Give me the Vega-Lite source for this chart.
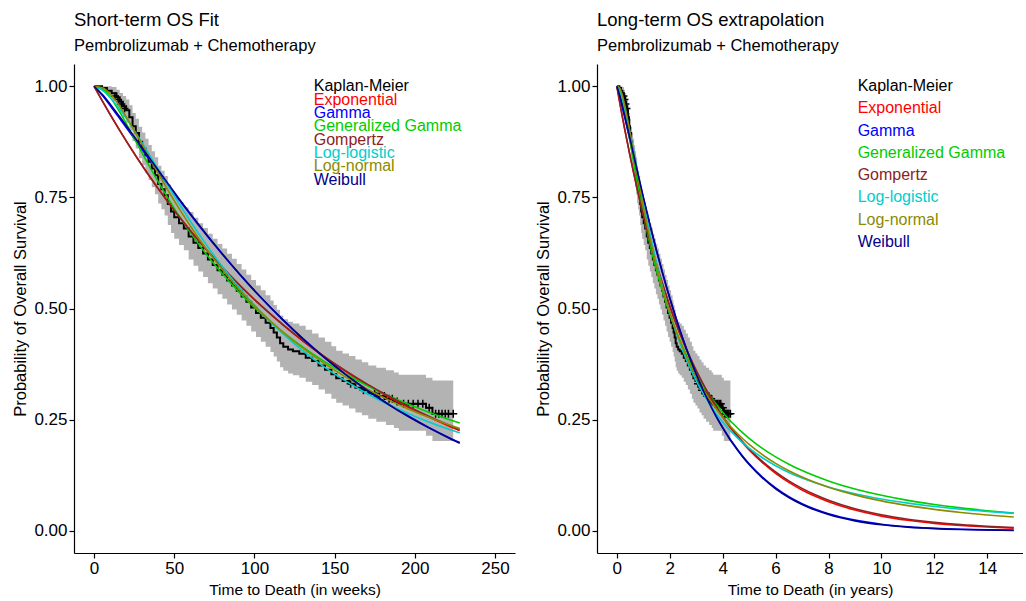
{
  "$schema": "https://vega.github.io/schema/vega-lite/v6.json",
  "background": "white",
  "padding": {"left": 12, "top": 11, "right": 0, "bottom": 0},
  "spacing": 20,
  "config": {
    "font": "Liberation Sans",
    "view": {"stroke": null},
    "axis": {"grid": false, "domainColor": "black", "tickColor": "black", "labelColor": "black", "titleColor": "black", "labelFontSize": 17, "titleFontSize": 15.5, "titleFontWeight": "normal", "tickSize": 5, "labelPadding": 2, "domainWidth": 1.2, "tickWidth": 1.2, "titlePadding": 6},
    "axisY": {"titleFontSize": 16.5, "titlePadding": 5},
    "title": {"anchor": "start", "frame": "group", "fontSize": 18.5, "fontWeight": "normal", "subtitleFontSize": 16.5, "subtitlePadding": 8, "color": "black", "subtitleColor": "black", "offset": 10}
  },
  "datasets": {
    "km": [
      {"w":0,"t":0,"s":1,"lo":1,"hi":1},
      {"w":5,"t":0.0958,"s":0.996,"lo":0.988,"hi":1},
      {"w":8,"t":0.1533,"s":0.990,"lo":0.978,"hi":1},
      {"w":11,"t":0.2108,"s":0.984,"lo":0.968,"hi":0.998},
      {"w":14,"t":0.2683,"s":0.975,"lo":0.955,"hi":0.992},
      {"w":16,"t":0.3066,"s":0.965,"lo":0.942,"hi":0.985},
      {"w":18,"t":0.3450,"s":0.955,"lo":0.930,"hi":0.978},
      {"w":20,"t":0.3833,"s":0.946,"lo":0.918,"hi":0.970},
      {"w":22,"t":0.4216,"s":0.930,"lo":0.900,"hi":0.957},
      {"w":24,"t":0.4599,"s":0.910,"lo":0.877,"hi":0.940},
      {"w":26,"t":0.4983,"s":0.895,"lo":0.860,"hi":0.927},
      {"w":28,"t":0.5366,"s":0.875,"lo":0.838,"hi":0.909},
      {"w":30,"t":0.5749,"s":0.860,"lo":0.822,"hi":0.896},
      {"w":32,"t":0.6133,"s":0.845,"lo":0.805,"hi":0.882},
      {"w":34,"t":0.6516,"s":0.830,"lo":0.789,"hi":0.868},
      {"w":36,"t":0.6899,"s":0.815,"lo":0.773,"hi":0.854},
      {"w":38,"t":0.7282,"s":0.800,"lo":0.757,"hi":0.840},
      {"w":40,"t":0.7666,"s":0.780,"lo":0.736,"hi":0.821},
      {"w":42,"t":0.8049,"s":0.768,"lo":0.723,"hi":0.810},
      {"w":44,"t":0.8432,"s":0.755,"lo":0.709,"hi":0.798},
      {"w":46,"t":0.8816,"s":0.735,"lo":0.688,"hi":0.779},
      {"w":48,"t":0.9199,"s":0.718,"lo":0.670,"hi":0.763},
      {"w":50,"t":0.9582,"s":0.705,"lo":0.657,"hi":0.751},
      {"w":53,"t":1.0157,"s":0.692,"lo":0.643,"hi":0.738},
      {"w":56,"t":1.0732,"s":0.680,"lo":0.631,"hi":0.727},
      {"w":59,"t":1.1307,"s":0.662,"lo":0.610,"hi":0.717},
      {"w":62,"t":1.1882,"s":0.648,"lo":0.596,"hi":0.704},
      {"w":65,"t":1.2457,"s":0.636,"lo":0.583,"hi":0.692},
      {"w":68,"t":1.3032,"s":0.624,"lo":0.571,"hi":0.681},
      {"w":71,"t":1.3607,"s":0.610,"lo":0.557,"hi":0.668},
      {"w":74,"t":1.4182,"s":0.598,"lo":0.545,"hi":0.657},
      {"w":77,"t":1.4757,"s":0.586,"lo":0.532,"hi":0.645},
      {"w":80,"t":1.5332,"s":0.576,"lo":0.522,"hi":0.635},
      {"w":83,"t":1.5906,"s":0.563,"lo":0.509,"hi":0.623},
      {"w":86,"t":1.6481,"s":0.552,"lo":0.498,"hi":0.612},
      {"w":89,"t":1.7056,"s":0.540,"lo":0.486,"hi":0.600},
      {"w":92,"t":1.7631,"s":0.527,"lo":0.473,"hi":0.588},
      {"w":95,"t":1.8206,"s":0.515,"lo":0.461,"hi":0.576},
      {"w":98,"t":1.8781,"s":0.502,"lo":0.448,"hi":0.564},
      {"w":101,"t":1.9356,"s":0.490,"lo":0.436,"hi":0.552},
      {"w":104,"t":1.9931,"s":0.479,"lo":0.425,"hi":0.541},
      {"w":107,"t":2.0506,"s":0.468,"lo":0.414,"hi":0.530},
      {"w":110,"t":2.1081,"s":0.456,"lo":0.402,"hi":0.518},
      {"w":112,"t":2.1464,"s":0.446,"lo":0.392,"hi":0.508},
      {"w":114,"t":2.1847,"s":0.435,"lo":0.381,"hi":0.497},
      {"w":116,"t":2.2231,"s":0.422,"lo":0.368,"hi":0.484},
      {"w":118,"t":2.2614,"s":0.414,"lo":0.360,"hi":0.476},
      {"w":121,"t":2.3189,"s":0.408,"lo":0.354,"hi":0.470},
      {"w":124,"t":2.3764,"s":0.404,"lo":0.350,"hi":0.466},
      {"w":128,"t":2.4531,"s":0.398,"lo":0.344,"hi":0.461},
      {"w":132,"t":2.5297,"s":0.389,"lo":0.335,"hi":0.452},
      {"w":136,"t":2.6064,"s":0.382,"lo":0.328,"hi":0.444},
      {"w":140,"t":2.6830,"s":0.372,"lo":0.318,"hi":0.435},
      {"w":144,"t":2.7597,"s":0.362,"lo":0.308,"hi":0.425},
      {"w":148,"t":2.8363,"s":0.352,"lo":0.297,"hi":0.415},
      {"w":151,"t":2.8938,"s":0.343,"lo":0.288,"hi":0.405},
      {"w":155,"t":2.9705,"s":0.337,"lo":0.282,"hi":0.399},
      {"w":159,"t":3.0472,"s":0.331,"lo":0.275,"hi":0.393},
      {"w":163,"t":3.1238,"s":0.322,"lo":0.266,"hi":0.385},
      {"w":167,"t":3.2005,"s":0.316,"lo":0.260,"hi":0.379},
      {"w":171,"t":3.2771,"s":0.309,"lo":0.252,"hi":0.372},
      {"w":176,"t":3.3729,"s":0.303,"lo":0.245,"hi":0.367},
      {"w":182,"t":3.4879,"s":0.297,"lo":0.238,"hi":0.361},
      {"w":187,"t":3.5837,"s":0.291,"lo":0.231,"hi":0.356},
      {"w":190,"t":3.6413,"s":0.286,"lo":0.225,"hi":0.351},
      {"w":207,"t":3.9670,"s":0.277,"lo":0.214,"hi":0.344},
      {"w":211,"t":4.0437,"s":0.263,"lo":0.202,"hi":0.338},
      {"w":224,"t":4.2928,"s":0.263,"lo":0.202,"hi":0.338}
    ],
    "cens": [
      {"w":13,"t":0.2491,"s":0.978},{"w":15,"t":0.2875,"s":0.970},{"w":17,"t":0.3258,"s":0.960},{"w":19,"t":0.3641,"s":0.950},
      {"w":160,"t":3.0663,"s":0.331},{"w":168,"t":3.2196,"s":0.316},{"w":175,"t":3.3538,"s":0.309},{"w":178,"t":3.4113,"s":0.303},
      {"w":181,"t":3.4688,"s":0.303},{"w":184,"t":3.5262,"s":0.297},{"w":186,"t":3.5646,"s":0.297},{"w":189,"t":3.6221,"s":0.291},
      {"w":193,"t":3.6987,"s":0.286},{"w":196,"t":3.7562,"s":0.286},{"w":199,"t":3.8137,"s":0.286},{"w":202,"t":3.8712,"s":0.286},
      {"w":205,"t":3.9287,"s":0.286},{"w":209,"t":4.0054,"s":0.277},{"w":213,"t":4.0820,"s":0.263},{"w":215,"t":4.1204,"s":0.263},
      {"w":217,"t":4.1587,"s":0.263},{"w":219,"t":4.1970,"s":0.263},{"w":221,"t":4.2353,"s":0.263},{"w":224,"t":4.2928,"s":0.263}
    ],
    "lab": [
      {"label":"Kaplan-Meier","w":137,"t":9.1,"sL":1.00,"sR":1.00},
      {"label":"Exponential","w":137,"t":9.1,"sL":0.97,"sR":0.95},
      {"label":"Gamma","w":137,"t":9.1,"sL":0.94,"sR":0.90},
      {"label":"Generalized Gamma","w":137,"t":9.1,"sL":0.91,"sR":0.85},
      {"label":"Gompertz","w":137,"t":9.1,"sL":0.88,"sR":0.80},
      {"label":"Log-logistic","w":137,"t":9.1,"sL":0.85,"sR":0.75},
      {"label":"Log-normal","w":137,"t":9.1,"sL":0.82,"sR":0.70},
      {"label":"Weibull","w":137,"t":9.1,"sL":0.79,"sR":0.65}
    ],
    "fit": [
      {"m":"Exponential","t":0,"w":0,"s":1},{"m":"Exponential","t":0.1,"w":5.22,"s":0.9665},{"m":"Exponential","t":0.2,"w":10.44,"s":0.9341},{"m":"Exponential","t":0.3,"w":15.65,"s":0.9028},{"m":"Exponential","t":0.5,"w":26.09,"s":0.8432},{"m":"Exponential","t":0.75,"w":39.14,"s":0.7743},{"m":"Exponential","t":1,"w":52.18,"s":0.7110},{"m":"Exponential","t":1.25,"w":65.23,"s":0.6530},{"m":"Exponential","t":1.5,"w":78.27,"s":0.5996},{"m":"Exponential","t":1.75,"w":91.32,"s":0.5506},{"m":"Exponential","t":2,"w":104.36,"s":0.5056},{"m":"Exponential","t":2.25,"w":117.41,"s":0.4643},{"m":"Exponential","t":2.5,"w":130.45,"s":0.4263},{"m":"Exponential","t":2.75,"w":143.5,"s":0.3915},{"m":"Exponential","t":3,"w":156.54,"s":0.3595},{"m":"Exponential","t":3.25,"w":169.59,"s":0.3301},{"m":"Exponential","t":3.5,"w":182.63,"s":0.3032},{"m":"Exponential","t":3.75,"w":195.68,"s":0.2784},{"m":"Exponential","t":4,"w":208.72,"s":0.2556},{"m":"Exponential","t":4.25,"w":221.77,"s":0.2348},{"m":"Exponential","t":4.37,"w":228.03,"s":0.2253},{"m":"Exponential","t":4.75,"s":0.1980},{"m":"Exponential","t":5,"s":0.1818},{"m":"Exponential","t":5.5,"s":0.1533},{"m":"Exponential","t":6,"s":0.1293},{"m":"Exponential","t":6.5,"s":0.1090},{"m":"Exponential","t":7,"s":0.0919},{"m":"Exponential","t":7.5,"s":0.0775},{"m":"Exponential","t":8,"s":0.0654},{"m":"Exponential","t":9,"s":0.0465},{"m":"Exponential","t":10,"s":0.0330},{"m":"Exponential","t":11,"s":0.0235},{"m":"Exponential","t":12,"s":0.0167},{"m":"Exponential","t":13,"s":0.0119},{"m":"Exponential","t":14,"s":0.0084},{"m":"Exponential","t":15,"s":0.0060},
      {"m":"Gamma","t":0,"w":0,"s":1},{"m":"Gamma","t":0.1,"w":5.22,"s":0.9790},{"m":"Gamma","t":0.2,"w":10.44,"s":0.9545},{"m":"Gamma","t":0.3,"w":15.65,"s":0.9290},{"m":"Gamma","t":0.5,"w":26.09,"s":0.8770},{"m":"Gamma","t":0.75,"w":39.14,"s":0.8120},{"m":"Gamma","t":1,"w":52.18,"s":0.7485},{"m":"Gamma","t":1.25,"w":65.23,"s":0.6875},{"m":"Gamma","t":1.5,"w":78.27,"s":0.6295},{"m":"Gamma","t":1.75,"w":91.32,"s":0.5748},{"m":"Gamma","t":2,"w":104.36,"s":0.5236},{"m":"Gamma","t":2.25,"w":117.41,"s":0.4760},{"m":"Gamma","t":2.5,"w":130.45,"s":0.4316},{"m":"Gamma","t":2.75,"w":143.5,"s":0.3907},{"m":"Gamma","t":3,"w":156.54,"s":0.3531},{"m":"Gamma","t":3.25,"w":169.59,"s":0.3187},{"m":"Gamma","t":3.5,"w":182.63,"s":0.2873},{"m":"Gamma","t":3.75,"w":195.68,"s":0.2586},{"m":"Gamma","t":4,"w":208.72,"s":0.2326},{"m":"Gamma","t":4.25,"w":221.77,"s":0.2090},{"m":"Gamma","t":4.37,"w":228.03,"s":0.1985},{"m":"Gamma","t":4.75,"s":0.1683},{"m":"Gamma","t":5,"s":0.1508},{"m":"Gamma","t":5.5,"s":0.1208},{"m":"Gamma","t":6,"s":0.0964},{"m":"Gamma","t":6.5,"s":0.0768},{"m":"Gamma","t":7,"s":0.0611},{"m":"Gamma","t":7.5,"s":0.0485},{"m":"Gamma","t":8,"s":0.0384},{"m":"Gamma","t":9,"s":0.0240},{"m":"Gamma","t":10,"s":0.0148},{"m":"Gamma","t":11,"s":0.0091},{"m":"Gamma","t":12,"s":0.0056},{"m":"Gamma","t":13,"s":0.0034},{"m":"Gamma","t":14,"s":0.0021},{"m":"Gamma","t":15,"s":0.0013},
      {"m":"Generalized Gamma","t":0,"w":0,"s":1},{"m":"Generalized Gamma","t":0.1,"w":5.22,"s":0.9943},{"m":"Generalized Gamma","t":0.2,"w":10.44,"s":0.9737},{"m":"Generalized Gamma","t":0.3,"w":15.65,"s":0.9442},{"m":"Generalized Gamma","t":0.5,"w":26.09,"s":0.8758},{"m":"Generalized Gamma","t":0.75,"w":39.14,"s":0.7904},{"m":"Generalized Gamma","t":1,"w":52.18,"s":0.7129},{"m":"Generalized Gamma","t":1.25,"w":65.23,"s":0.6448},{"m":"Generalized Gamma","t":1.5,"w":78.27,"s":0.5853},{"m":"Generalized Gamma","t":1.75,"w":91.32,"s":0.5333},{"m":"Generalized Gamma","t":2,"w":104.36,"s":0.4879},{"m":"Generalized Gamma","t":2.25,"w":117.41,"s":0.4478},{"m":"Generalized Gamma","t":2.5,"w":130.45,"s":0.4125},{"m":"Generalized Gamma","t":2.75,"w":143.5,"s":0.3811},{"m":"Generalized Gamma","t":3,"w":156.54,"s":0.3531},{"m":"Generalized Gamma","t":3.25,"w":169.59,"s":0.3280},{"m":"Generalized Gamma","t":3.5,"w":182.63,"s":0.3054},{"m":"Generalized Gamma","t":3.75,"w":195.68,"s":0.2851},{"m":"Generalized Gamma","t":4,"w":208.72,"s":0.2667},{"m":"Generalized Gamma","t":4.25,"w":221.77,"s":0.2499},{"m":"Generalized Gamma","t":4.37,"w":228.03,"s":0.2424},{"m":"Generalized Gamma","t":4.75,"s":0.2207},{"m":"Generalized Gamma","t":5,"s":0.2079},{"m":"Generalized Gamma","t":5.5,"s":0.1854},{"m":"Generalized Gamma","t":6,"s":0.1661},{"m":"Generalized Gamma","t":6.5,"s":0.1497},{"m":"Generalized Gamma","t":7,"s":0.1354},{"m":"Generalized Gamma","t":7.5,"s":0.1230},{"m":"Generalized Gamma","t":8,"s":0.1121},{"m":"Generalized Gamma","t":9,"s":0.0941},{"m":"Generalized Gamma","t":10,"s":0.0798},{"m":"Generalized Gamma","t":11,"s":0.0684},{"m":"Generalized Gamma","t":12,"s":0.0592},{"m":"Generalized Gamma","t":13,"s":0.0515},{"m":"Generalized Gamma","t":14,"s":0.0452},{"m":"Generalized Gamma","t":15,"s":0.0398},
      {"m":"Gompertz","t":0,"w":0,"s":1},{"m":"Gompertz","t":0.1,"w":5.22,"s":0.9663},{"m":"Gompertz","t":0.2,"w":10.44,"s":0.9338},{"m":"Gompertz","t":0.3,"w":15.65,"s":0.9023},{"m":"Gompertz","t":0.5,"w":26.09,"s":0.8426},{"m":"Gompertz","t":0.75,"w":39.14,"s":0.7736},{"m":"Gompertz","t":1,"w":52.18,"s":0.7104},{"m":"Gompertz","t":1.25,"w":65.23,"s":0.6524},{"m":"Gompertz","t":1.5,"w":78.27,"s":0.5992},{"m":"Gompertz","t":1.75,"w":91.32,"s":0.5504},{"m":"Gompertz","t":2,"w":104.36,"s":0.5057},{"m":"Gompertz","t":2.25,"w":117.41,"s":0.4646},{"m":"Gompertz","t":2.5,"w":130.45,"s":0.4270},{"m":"Gompertz","t":2.75,"w":143.5,"s":0.3924},{"m":"Gompertz","t":3,"w":156.54,"s":0.3607},{"m":"Gompertz","t":3.25,"w":169.59,"s":0.3316},{"m":"Gompertz","t":3.5,"w":182.63,"s":0.3048},{"m":"Gompertz","t":3.75,"w":195.68,"s":0.2803},{"m":"Gompertz","t":4,"w":208.72,"s":0.2578},{"m":"Gompertz","t":4.25,"w":221.77,"s":0.2371},{"m":"Gompertz","t":4.37,"w":228.03,"s":0.2278},{"m":"Gompertz","t":4.75,"s":0.2006},{"m":"Gompertz","t":5,"s":0.1846},{"m":"Gompertz","t":5.5,"s":0.1563},{"m":"Gompertz","t":6,"s":0.1325},{"m":"Gompertz","t":6.5,"s":0.1123},{"m":"Gompertz","t":7,"s":0.0953},{"m":"Gompertz","t":7.5,"s":0.0809},{"m":"Gompertz","t":8,"s":0.0687},{"m":"Gompertz","t":9,"s":0.0496},{"m":"Gompertz","t":10,"s":0.0359},{"m":"Gompertz","t":11,"s":0.0261},{"m":"Gompertz","t":12,"s":0.0190},{"m":"Gompertz","t":13,"s":0.0138},{"m":"Gompertz","t":14,"s":0.0101},{"m":"Gompertz","t":15,"s":0.0074},
      {"m":"Log-logistic","t":0,"w":0,"s":1},{"m":"Log-logistic","t":0.1,"w":5.22,"s":0.9907},{"m":"Log-logistic","t":0.2,"w":10.44,"s":0.9729},{"m":"Log-logistic","t":0.3,"w":15.65,"s":0.9499},{"m":"Log-logistic","t":0.5,"w":26.09,"s":0.8948},{"m":"Log-logistic","t":0.75,"w":39.14,"s":0.8181},{"m":"Log-logistic","t":1,"w":52.18,"s":0.7411},{"m":"Log-logistic","t":1.25,"w":65.23,"s":0.6684},{"m":"Log-logistic","t":1.5,"w":78.27,"s":0.6022},{"m":"Log-logistic","t":1.75,"w":91.32,"s":0.5430},{"m":"Log-logistic","t":2,"w":104.36,"s":0.4907},{"m":"Log-logistic","t":2.25,"w":117.41,"s":0.4447},{"m":"Log-logistic","t":2.5,"w":130.45,"s":0.4042},{"m":"Log-logistic","t":2.75,"w":143.5,"s":0.3688},{"m":"Log-logistic","t":3,"w":156.54,"s":0.3376},{"m":"Log-logistic","t":3.25,"w":169.59,"s":0.3100},{"m":"Log-logistic","t":3.5,"w":182.63,"s":0.2857},{"m":"Log-logistic","t":3.75,"w":195.68,"s":0.2641},{"m":"Log-logistic","t":4,"w":208.72,"s":0.2449},{"m":"Log-logistic","t":4.25,"w":221.77,"s":0.2277},{"m":"Log-logistic","t":4.37,"w":228.03,"s":0.2201},{"m":"Log-logistic","t":4.75,"s":0.1984},{"m":"Log-logistic","t":5,"s":0.1859},{"m":"Log-logistic","t":5.5,"s":0.1643},{"m":"Log-logistic","t":6,"s":0.1464},{"m":"Log-logistic","t":6.5,"s":0.1313},{"m":"Log-logistic","t":7,"s":0.1186},{"m":"Log-logistic","t":7.5,"s":0.1078},{"m":"Log-logistic","t":8,"s":0.0984},{"m":"Log-logistic","t":9,"s":0.0832},{"m":"Log-logistic","t":10,"s":0.0714},{"m":"Log-logistic","t":11,"s":0.0621},{"m":"Log-logistic","t":12,"s":0.0545},{"m":"Log-logistic","t":13,"s":0.0484},{"m":"Log-logistic","t":14,"s":0.0433},{"m":"Log-logistic","t":15,"s":0.0391},
      {"m":"Log-normal","t":0,"w":0,"s":1},{"m":"Log-normal","t":0.1,"w":5.22,"s":0.9967},{"m":"Log-normal","t":0.2,"w":10.44,"s":0.9815},{"m":"Log-normal","t":0.3,"w":15.65,"s":0.9568},{"m":"Log-normal","t":0.5,"w":26.09,"s":0.8937},{"m":"Log-normal","t":0.75,"w":39.14,"s":0.8093},{"m":"Log-normal","t":1,"w":52.18,"s":0.7296},{"m":"Log-normal","t":1.25,"w":65.23,"s":0.6581},{"m":"Log-normal","t":1.5,"w":78.27,"s":0.5950},{"m":"Log-normal","t":1.75,"w":91.32,"s":0.5395},{"m":"Log-normal","t":2,"w":104.36,"s":0.4908},{"m":"Log-normal","t":2.25,"w":117.41,"s":0.4479},{"m":"Log-normal","t":2.5,"w":130.45,"s":0.4101},{"m":"Log-normal","t":2.75,"w":143.5,"s":0.3765},{"m":"Log-normal","t":3,"w":156.54,"s":0.3467},{"m":"Log-normal","t":3.25,"w":169.59,"s":0.3200},{"m":"Log-normal","t":3.5,"w":182.63,"s":0.2961},{"m":"Log-normal","t":3.75,"w":195.68,"s":0.2747},{"m":"Log-normal","t":4,"w":208.72,"s":0.2553},{"m":"Log-normal","t":4.25,"w":221.77,"s":0.2378},{"m":"Log-normal","t":4.37,"w":228.03,"s":0.2300},{"m":"Log-normal","t":4.75,"s":0.2075},{"m":"Log-normal","t":5,"s":0.1943},{"m":"Log-normal","t":5.5,"s":0.1712},{"m":"Log-normal","t":6,"s":0.1517},{"m":"Log-normal","t":6.5,"s":0.1351},{"m":"Log-normal","t":7,"s":0.1210},{"m":"Log-normal","t":7.5,"s":0.1087},{"m":"Log-normal","t":8,"s":0.0981},{"m":"Log-normal","t":9,"s":0.0807},{"m":"Log-normal","t":10,"s":0.0672},{"m":"Log-normal","t":11,"s":0.0566},{"m":"Log-normal","t":12,"s":0.0481},{"m":"Log-normal","t":13,"s":0.0412},{"m":"Log-normal","t":14,"s":0.0355},{"m":"Log-normal","t":15,"s":0.0309},
      {"m":"Weibull","t":0,"w":0,"s":1},{"m":"Weibull","t":0.1,"w":5.22,"s":0.9811},{"m":"Weibull","t":0.2,"w":10.44,"s":0.9578},{"m":"Weibull","t":0.3,"w":15.65,"s":0.9329},{"m":"Weibull","t":0.5,"w":26.09,"s":0.8811},{"m":"Weibull","t":0.75,"w":39.14,"s":0.8154},{"m":"Weibull","t":1,"w":52.18,"s":0.7511},{"m":"Weibull","t":1.25,"w":65.23,"s":0.6892},{"m":"Weibull","t":1.5,"w":78.27,"s":0.6304},{"m":"Weibull","t":1.75,"w":91.32,"s":0.5751},{"m":"Weibull","t":2,"w":104.36,"s":0.5235},{"m":"Weibull","t":2.25,"w":117.41,"s":0.4755},{"m":"Weibull","t":2.5,"w":130.45,"s":0.4310},{"m":"Weibull","t":2.75,"w":143.5,"s":0.3900},{"m":"Weibull","t":3,"w":156.54,"s":0.3523},{"m":"Weibull","t":3.25,"w":169.59,"s":0.3178},{"m":"Weibull","t":3.5,"w":182.63,"s":0.2863},{"m":"Weibull","t":3.75,"w":195.68,"s":0.2575},{"m":"Weibull","t":4,"w":208.72,"s":0.2314},{"m":"Weibull","t":4.25,"w":221.77,"s":0.2077},{"m":"Weibull","t":4.37,"w":228.03,"s":0.1971},{"m":"Weibull","t":4.75,"s":0.1667},{"m":"Weibull","t":5,"s":0.1491},{"m":"Weibull","t":5.5,"s":0.1190},{"m":"Weibull","t":6,"s":0.0945},{"m":"Weibull","t":6.5,"s":0.0749},{"m":"Weibull","t":7,"s":0.0591},{"m":"Weibull","t":7.5,"s":0.0466},{"m":"Weibull","t":8,"s":0.0366},{"m":"Weibull","t":9,"s":0.0223},{"m":"Weibull","t":10,"s":0.0135},{"m":"Weibull","t":11,"s":0.0081},{"m":"Weibull","t":12,"s":0.0048},{"m":"Weibull","t":13,"s":0.0029},{"m":"Weibull","t":14,"s":0.0017},{"m":"Weibull","t":15,"s":0.0010}
    ]
  },
  "hconcat": [
    {
      "title": {"text": "Short-term OS Fit", "subtitle": "Pembrolizumab + Chemotherapy"},
      "width": 441,
      "height": 489,
      "layer": [
        {
          "data": {"name": "km"},
          "mark": {"type": "area", "interpolate": "step-after", "color": "#B3B3B3", "opacity": 1},
          "encoding": {
            "x": {"field": "w", "type": "quantitative", "scale": {"domain": [-12.5, 262.5], "nice": false, "zero": false}, "axis": {"values": [0, 50, 100, 150, 200, 250], "title": "Time to Death (in weeks)"}},
            "y": {"field": "lo", "type": "quantitative", "scale": {"domain": [-0.05, 1.05], "nice": false, "zero": false}, "axis": {"values": [0, 0.25, 0.5, 0.75, 1], "format": ".2f", "title": "Probability of Overall Survival"}},
            "y2": {"field": "hi"}
          }
        },
        {
          "data": {"name": "km"},
          "mark": {"type": "line", "interpolate": "step-after", "color": "black", "strokeWidth": 2},
          "encoding": {
            "x": {"field": "w", "type": "quantitative"},
            "y": {"field": "s", "type": "quantitative"}
          }
        },
        {
          "data": {"name": "cens"},
          "mark": {"type": "point", "shape": "M-1,0L1,0M0,-1L0,1", "filled": false, "color": "black", "strokeWidth": 1.5, "size": 64, "opacity": 1},
          "encoding": {
            "x": {"field": "w", "type": "quantitative"},
            "y": {"field": "s", "type": "quantitative"}
          }
        },
        {
          "data": {"name": "fit"},
          "transform": [{"filter": "datum.t <= 4.371"}],
          "mark": {"type": "line", "interpolate": "monotone", "strokeWidth": 1.6},
          "encoding": {
            "x": {"field": "w", "type": "quantitative"},
            "y": {"field": "s", "type": "quantitative"},
            "color": {"field": "m", "type": "nominal", "legend": null, "scale": {"domain": ["Kaplan-Meier", "Exponential", "Gamma", "Generalized Gamma", "Gompertz", "Log-logistic", "Log-normal", "Weibull"], "range": ["#000000", "#FF0000", "#0000FF", "#00CD00", "#8B2323", "#00CDCD", "#8B8B00", "#00008B"]}}
          }
        },
        {
          "data": {"name": "lab"},
          "mark": {"type": "text", "align": "left", "baseline": "middle", "fontSize": 16},
          "encoding": {
            "x": {"field": "w", "type": "quantitative"},
            "y": {"field": "sL", "type": "quantitative"},
            "text": {"field": "label"},
            "color": {"field": "label", "type": "nominal", "legend": null}
          }
        }
      ]
    },
    {
      "title": {"text": "Long-term OS extrapolation", "subtitle": "Pembrolizumab + Chemotherapy"},
      "width": 426,
      "height": 489,
      "layer": [
        {
          "data": {"name": "km"},
          "mark": {"type": "area", "interpolate": "step-after", "color": "#B3B3B3", "opacity": 1},
          "encoding": {
            "x": {"field": "t", "type": "quantitative", "scale": {"domain": [-0.75, 15.35], "nice": false, "zero": false}, "axis": {"values": [0, 2, 4, 6, 8, 10, 12, 14], "title": "Time to Death (in years)"}},
            "y": {"field": "lo", "type": "quantitative", "scale": {"domain": [-0.05, 1.05], "nice": false, "zero": false}, "axis": {"values": [0, 0.25, 0.5, 0.75, 1], "format": ".2f", "title": "Probability of Overall Survival"}},
            "y2": {"field": "hi"}
          }
        },
        {
          "data": {"name": "km"},
          "mark": {"type": "line", "interpolate": "step-after", "color": "black", "strokeWidth": 2},
          "encoding": {
            "x": {"field": "t", "type": "quantitative"},
            "y": {"field": "s", "type": "quantitative"}
          }
        },
        {
          "data": {"name": "cens"},
          "mark": {"type": "point", "shape": "M-1,0L1,0M0,-1L0,1", "filled": false, "color": "black", "strokeWidth": 1.5, "size": 64, "opacity": 1},
          "encoding": {
            "x": {"field": "t", "type": "quantitative"},
            "y": {"field": "s", "type": "quantitative"}
          }
        },
        {
          "data": {"name": "fit"},
          "mark": {"type": "line", "interpolate": "monotone", "strokeWidth": 1.6},
          "encoding": {
            "x": {"field": "t", "type": "quantitative"},
            "y": {"field": "s", "type": "quantitative"},
            "color": {"field": "m", "type": "nominal", "legend": null}
          }
        },
        {
          "data": {"name": "lab"},
          "mark": {"type": "text", "align": "left", "baseline": "middle", "fontSize": 16},
          "encoding": {
            "x": {"field": "t", "type": "quantitative"},
            "y": {"field": "sR", "type": "quantitative"},
            "text": {"field": "label"},
            "color": {"field": "label", "type": "nominal", "legend": null}
          }
        }
      ]
    }
  ]
}
